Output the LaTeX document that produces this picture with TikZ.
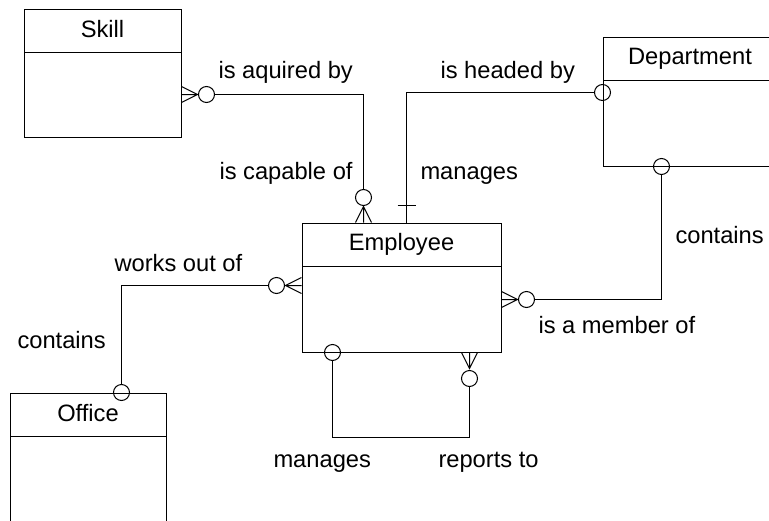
\documentclass[tikz,border=0pt]{standalone}
\usepackage{fontspec}
\setmainfont{Liberation Sans}
\usetikzlibrary{calc}

\tikzset{
  entity/.style={draw, line width=1pt, inner sep=0pt,
    path picture={\draw[line width=1pt] ([yshift=-43pt]path picture bounding box.north west) -- ([yshift=-43pt]path picture bounding box.north east);}},
  title/.style={anchor=base, inner sep=0pt, font=\fontsize{23.7}{28}\selectfont},
  rel/.style={anchor=base west, inner sep=0pt, font=\fontsize{23.7}{28}\selectfont},
  ring/.style={circle, draw, line width=1pt, minimum size=16pt, inner sep=0pt},
  crowfoot/.pic={\draw[line width=1pt] (0,-8) -- (16,0) -- (0,8) (0,0) -- (16,0);}
}

\begin{document}
\begin{tikzpicture}[x=1pt, y=-1pt, line width=1pt]
\clip (0,0) rectangle (769,520);

% Entities
\node[entity, minimum width=157pt, minimum height=128pt] (skill) at (102.5,73) {};
\node[title] (skillT) at ($(skill.north)+(0,29)$) {Skill};

\node[entity, minimum width=174pt, minimum height=129pt] (dept) at (690,101.5) {};
\node[title] (deptT) at ($(dept.north)+(0,28)$) {Department};

\node[entity, minimum width=199pt, minimum height=129pt] (emp) at (401.5,287.5) {};
\node[title] (empT) at ($(emp.north)+(0,28)$) {Employee};

\node[entity, minimum width=156pt, minimum height=129pt] (office) at (88,457.5) {};
\node[title] (officeT) at ($(office.north)+(0,29)$) {Office};

% Skill -- Employee
\node[ring] (c1) at ($(skill.north east)+(25,86)$) {};
\node[ring] (c2) at ($(emp.north west)+(62,-25)$) {};
\pic at ($(skill.north east)+(0,86)$) {crowfoot};
\pic[rotate=90] at ($(emp.north west)+(62,0)$) {crowfoot};
\draw (c1) -| (c2);
\node[rel] (l1) at (218,78) {is aquired by};
\node[rel] (l2) at (219,179) {is capable of};

% Employee -- Department (head)
\coordinate (m1) at ($(emp.north west)+(105,0)$);
\node[ring] (c3) at ($(dept.north west)+(0,56)$) {};
\draw (m1) |- (c3);
\draw ($(m1)+(-9,-17)$) -- ($(m1)+(9,-17)$);
\node[rel] (l3) at (440,78) {is headed by};
\node[rel] (l4) at (420,179) {manages};

% Department -- Employee (member)
\node[ring] (c4) at ($(dept.south west)+(59,0)$) {};
\node[ring] (c5) at ($(emp.north east)+(25,77)$) {};
\pic at ($(emp.north east)+(0,77)$) {crowfoot};
\draw (c4) |- (c5);
\node[rel] (l5) at (675,243) {contains};
\node[rel] (l6) at (538,333) {is a member of};

% Employee -- Office
\node[ring] (c6) at ($(emp.north west)+(-25,63)$) {};
\node[ring] (c7) at ($(office.north west)+(112,0)$) {};
\pic[rotate=180] at ($(emp.north west)+(0,63)$) {crowfoot};
\draw (c6) -| (c7);
\node[rel] (l7) at (114,271) {works out of};
\node[rel] (l8) at (17,348) {contains};

% Employee -- Employee
\node[ring] (c8) at ($(emp.south west)+(31,0)$) {};
\node[ring] (c9) at ($(emp.south west)+(168,26)$) {};
\pic[rotate=-90] at ($(emp.south west)+(168,0)$) {crowfoot};
\draw (c8) |- ($(c9)+(0,59)$) -- (c9);
\node[rel] (l9) at (273,467) {manages};
\node[rel] (l10) at (438,467) {reports to};

\end{tikzpicture}
\end{document}
